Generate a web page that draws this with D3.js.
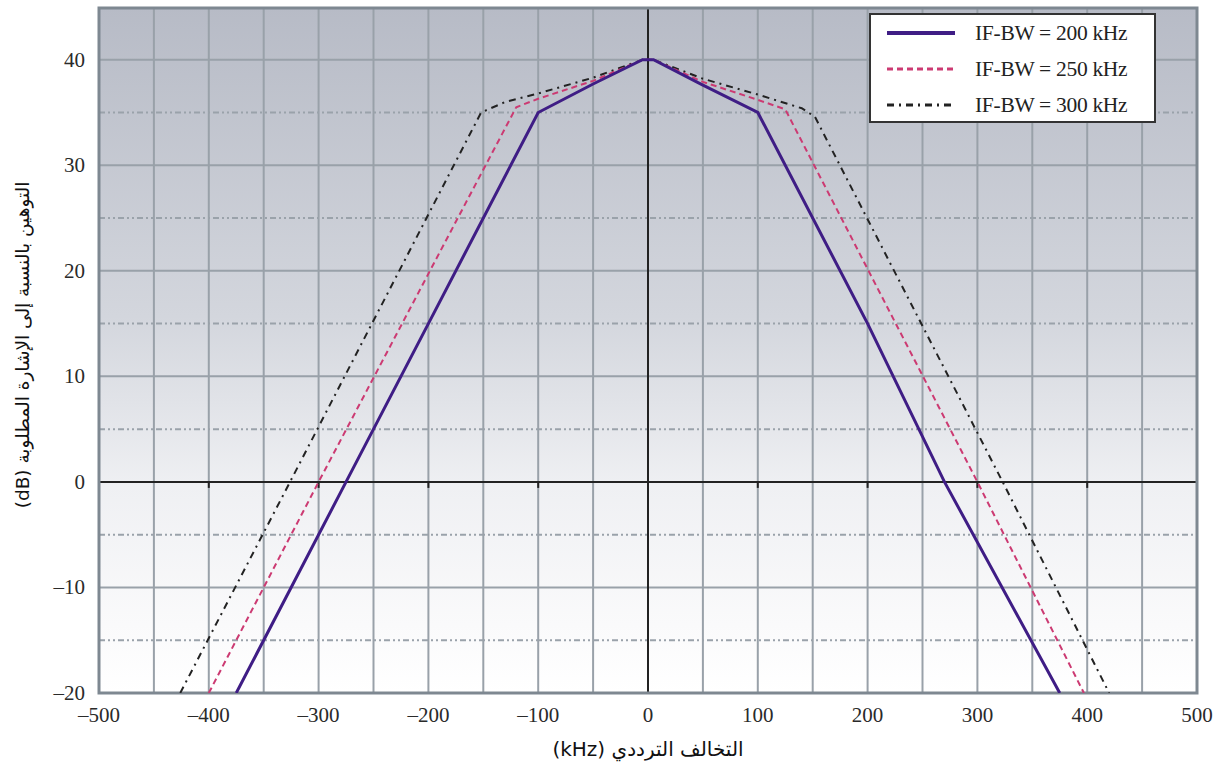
<!DOCTYPE html>
<html>
<head>
<meta charset="utf-8">
<script src="https://cdn.jsdelivr.net/npm/d3@7"></script>
<style>
  body { margin: 0; background: white; }
</style>
</head>
<body>
<div id="chart"></div>
<script>
// attenuation curves, kHz vs dB
let bw200 = [[-375, -20], [-275, 0], [-200, 15], [-100, 35], [-50, 37.7], [-5, 40], [5, 40], [50, 37.6], [100, 35], [200, 15], [270, 0], [375, -20]]
let bw250 = [[-400, -20], [-300, 0], [-120, 35.5], [-100, 36.3], [-50, 38], [-5, 40], [5, 40], [50, 37.9], [100, 36.2], [125, 35.3], [300, 0], [397, -20]]
let bw300 = [[-426, -20], [-326, 0], [-152, 35], [-130, 36], [-100, 36.8], [-50, 38.3], [-5, 40], [5, 40], [50, 38.2], [100, 36.7], [140, 35.4], [152, 34.6], [323, 0], [420, -20]]

let series = [
  { name: 'IF-BW = 200 kHz', data: bw200, color: '#3f1d85', width: 3, dash: null },
  { name: 'IF-BW = 250 kHz', data: bw250, color: '#cc3a72', width: 2, dash: '6,4' },
  { name: 'IF-BW = 300 kHz', data: bw300, color: '#222', width: 2, dash: '7,5,2,5' }
]

let xTicks = [-500, -400, -300, -200, -100, 0, 100, 200, 300, 400, 500]
let yTicks = [-20, -10, 0, 10, 20, 30, 40]
let yMinor = [-15, -5, 5, 15, 25, 35]

let margin = { top: 8, left: 99, right: 21, bottom: 76 }
let width = 1218 - margin.left - margin.right
let height = 769 - margin.top - margin.bottom

let svg = d3
  .select('#chart')
  .append('svg')
  .attr('width', 1218)
  .attr('height', 769)

let g = svg.append('g')
  .attr('transform', 'translate(' + margin.left + ',' + margin.top + ')')

let x = d3.scaleLinear().domain([-500, 500]).range([0, width])
let y = d3.scaleLinear().domain([-20, 44.9]).range([height, 0])

// background gradient
let grad = svg.append('defs').append('linearGradient')
  .attr('id', 'bg').attr('x1', 0).attr('y1', 0).attr('x2', 0).attr('y2', 1)
grad.append('stop').attr('offset', '0%').attr('stop-color', '#b7bbc6')
grad.append('stop').attr('offset', '45%').attr('stop-color', '#d3d6dd')
grad.append('stop').attr('offset', '70%').attr('stop-color', '#eff0f3')
grad.append('stop').attr('offset', '90%').attr('stop-color', '#fafafb')
grad.append('stop').attr('offset', '100%').attr('stop-color', '#ffffff')

g.append('rect')
  .attr('width', width)
  .attr('height', height)
  .attr('fill', 'url(#bg)')

// vertical grid every 50 kHz
g.selectAll('.vgrid')
  .data(d3.range(-450, 500, 50))
  .enter()
  .append('line')
  .attr('x1', d => x(d)).attr('x2', d => x(d))
  .attr('y1', 0).attr('y2', height)
  .attr('stroke', '#99a1a9')
  .attr('stroke-width', 2)

// horizontal grid
g.selectAll('.hgrid')
  .data(yTicks.filter(d => d > -20))
  .enter()
  .append('line')
  .attr('x1', 0).attr('x2', width)
  .attr('y1', d => y(d)).attr('y2', d => y(d))
  .attr('stroke', '#99a1a9')
  .attr('stroke-width', 2)

g.selectAll('.hminor')
  .data(yMinor)
  .enter()
  .append('line')
  .attr('x1', 0).attr('x2', width)
  .attr('y1', d => y(d)).attr('y2', d => y(d))
  .attr('stroke', '#9aa2aa')
  .attr('stroke-width', 2)
  .attr('stroke-dasharray', '6,3,2,3,2,3')

// zero lines
g.append('line')
  .attr('x1', 0).attr('x2', width)
  .attr('y1', y(0)).attr('y2', y(0))
  .attr('stroke', '#222').attr('stroke-width', 2)
g.append('line')
  .attr('x1', x(0)).attr('x2', x(0))
  .attr('y1', 0).attr('y2', height)
  .attr('stroke', '#222').attr('stroke-width', 2)

// small ticks on zero line
g.selectAll('.ztick')
  .data(xTicks.filter(d => d !== 0 && Math.abs(d) < 500))
  .enter()
  .append('line')
  .attr('x1', d => x(d)).attr('x2', d => x(d))
  .attr('y1', y(0)).attr('y2', y(0) + 6)
  .attr('stroke', '#222').attr('stroke-width', 2)

// frame
g.append('rect')
  .attr('width', width)
  .attr('height', height)
  .attr('fill', 'none')
  .attr('stroke', '#7e8891')
  .attr('stroke-width', 3)

// curves
let line = d3.line().x(d => x(d[0])).y(d => y(d[1]))

g.append('clipPath').attr('id', 'clip')
  .append('rect').attr('width', width).attr('height', height)

series.slice().reverse().forEach(s => {
  g.append('path')
    .datum(s.data)
    .attr('d', line)
    .attr('clip-path', 'url(#clip)')
    .attr('fill', 'none')
    .attr('stroke', s.color)
    .attr('stroke-width', s.width)
    .attr('stroke-dasharray', s.dash)
})

// axis labels
let fmt = d => (d < 0 ? '\u2013' + Math.abs(d) : '' + d)

svg.selectAll('.xlab')
  .data(xTicks)
  .enter()
  .append('text')
  .attr('x', d => margin.left + x(d))
  .attr('y', margin.top + height + 29)
  .attr('text-anchor', 'middle')
  .attr('font-family', 'Liberation Serif, serif')
  .attr('font-size', 21)
  .attr('fill', '#2a2a2a')
  .text(fmt)

svg.selectAll('.ylab')
  .data(yTicks)
  .enter()
  .append('text')
  .attr('x', 85)
  .attr('y', d => margin.top + y(d) + 7)
  .attr('text-anchor', 'end')
  .attr('font-family', 'Liberation Serif, serif')
  .attr('font-size', 21)
  .attr('fill', '#2a2a2a')
  .text(fmt)

svg.append('text')
  .attr('x', margin.left + x(0))
  .attr('y', 756)
  .attr('text-anchor', 'middle')
  .attr('direction', 'rtl')
  .attr('font-family', 'DejaVu Sans, sans-serif')
  .attr('font-size', 20)
  .attr('fill', '#111')
  .text('التخالف الترددي (kHz)')

svg.append('text')
  .attr('transform', 'translate(29,345) rotate(-90)')
  .attr('text-anchor', 'middle')
  .attr('direction', 'rtl')
  .attr('font-family', 'DejaVu Sans, sans-serif')
  .attr('font-size', 18.5)
  .attr('fill', '#111')
  .text('التوهين بالنسبة إلى الإشارة المطلوبة (dB)')

// legend
let lg = svg.append('g').attr('transform', 'translate(870,14)')
lg.append('rect')
  .attr('width', 285).attr('height', 108)
  .attr('fill', 'white')
  .attr('stroke', '#333')
  .attr('stroke-width', 2)

series.forEach((s, i) => {
  let yy = 19 + i * 36
  lg.append('line')
    .attr('x1', 17).attr('x2', 85)
    .attr('y1', yy).attr('y2', yy)
    .attr('stroke', s.color)
    .attr('stroke-width', s.width + 1)
    .attr('stroke-dasharray', s.dash)
  lg.append('text')
    .attr('x', 105).attr('y', yy + 7)
    .attr('font-family', 'Liberation Serif, serif')
    .attr('font-size', 21.5)
    .attr('letter-spacing', -0.3)
    .attr('fill', '#222')
    .text(s.name)
})
</script>
</body>
</html>
